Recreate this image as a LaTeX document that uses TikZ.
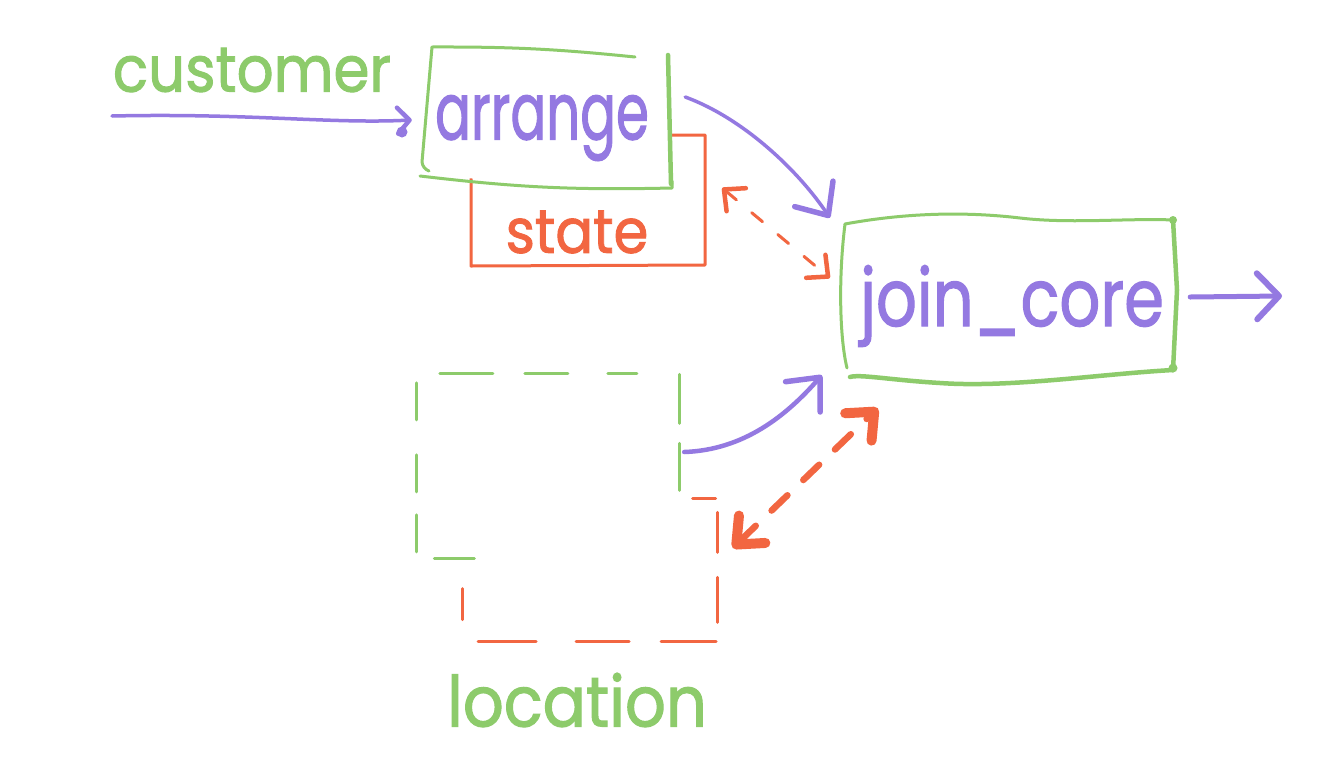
\documentclass[tikz,border=0pt]{standalone}
\usepackage{fontspec}
\setmainfont{Poppins}
\newfontfamily\hand[FakeBold=1.6]{Poppins}
\usetikzlibrary{arrows.meta,calc}
\definecolor{hgreen}{HTML}{8DCB6B}
\definecolor{hpurple}{HTML}{9479E1}
\definecolor{horange}{HTML}{F26641}
\pgfdeclarelayer{lay1}
\pgfdeclarelayer{lay2}
\pgfsetlayers{lay1,lay2,main}
\begin{document}
\begin{tikzpicture}[x=1pt,y=-1pt,
  gline/.style={hgreen,line width=3pt,line cap=round,line join=round},
  gthick/.style={hgreen,line width=4.5pt,line cap=round,line join=round},
  oline/.style={horange,line width=3pt,line cap=round,line join=round},
  pline/.style={hpurple,line width=4pt,line cap=round,line join=round},
  boxnode/.style={inner sep=0pt,minimum width=#1},
  headS/.style={-{Straight Barb[round,length=12pt,width=26pt,line width=4.5pt]}},
  headL/.style={-{Straight Barb[round,length=26pt,width=46pt,line width=5.5pt]}},
  headO/.style={-{Straight Barb[round,length=22pt,width=46pt,line width=6pt]}},
  headD/.style={{Straight Barb[round,length=16pt,width=30pt,line width=4.5pt]}-{Straight Barb[round,length=16pt,width=30pt,line width=4.5pt]}},
  headT/.style={{Straight Barb[round,length=22pt,width=38pt,line width=10pt]}-{Straight Barb[round,length=22pt,width=38pt,line width=10pt]}},
  txt/.style={inner sep=0pt,anchor=center}
]
\begin{pgfonlayer}{lay1}
\fill[white] (0,0) rectangle (1324,782);
\end{pgfonlayer}
\useasboundingbox (0,0) rectangle (1324,782);

% ---- nodes (boxes) ----
\node[boxnode=250pt,minimum height=140pt] (arrange) at (546,118) {};
\node[boxnode=234pt,minimum height=130pt] (state) at (588,200) {};
\node[boxnode=334pt,minimum height=160pt] (join) at (1010,300) {};
\node[boxnode=262pt,minimum height=184pt] (location) at (548,466) {};
\node[boxnode=255pt,minimum height=143pt] (locstate) at (590,570) {};

% ---- texts ----
\node[txt,text=hgreen,font=\hand\fontsize{58}{60}\selectfont] (customerlbl) at (252,70) {\scalebox{1}[1.1]{customer}};
\node[txt,text=hpurple,font=\hand\fontsize{53}{55}\selectfont] (arrangelbl) at (542,128) {\scalebox{1}[1.5]{arrange}};
\node[txt,text=horange,font=\hand\fontsize{56}{58}\selectfont] (statelbl) at (577,232) {\scalebox{1}[1.1]{state}};
\node[txt,text=hpurple,font=\hand\fontsize{64}{66}\selectfont] (joinlbl) at (1012,306) {\scalebox{1}[1.25]{join\_core}};
\node[txt,text=hgreen,font=\hand\fontsize{64}{66}\selectfont] (locationlbl) at (577,700) {\scalebox{1}[1.1]{location}};

% ---- back layer: state boxes ----
\begin{pgfonlayer}{lay1}
  \begin{scope}[shift={(state.center)}]
    \draw[oline] (117,-65) -- (117,65) -- (-117,66) -- (-117,-65) -- cycle;
  \end{scope}
  \draw[gline,dash pattern=on 53pt off 32pt on 43pt off 40pt on 29pt off 43pt on 49pt off 20pt on 47pt off 300pt]
    ($(location.north west)+(23,0)$) -- (location.north east) -- (location.south east);
  \draw[gline,dash pattern=on 37pt off 35pt on 37pt off 23pt on 37pt off 24pt on 40pt off 300pt]
    ($(location.north west)+(0,9)$) -- (location.south west) -- (location.south east);
  \draw[oline,dash pattern=on 23pt off 16pt on 40pt off 25pt on 45pt off 21pt on 55pt off 32pt on 53pt off 40pt on 58pt off 38pt on 31pt off 300pt]
    ($(locstate.north east)+(-25,0)$) -- (locstate.north east) -- (locstate.south east) -- (locstate.south west) -- (locstate.north west);
\end{pgfonlayer}

% ---- middle layer: process boxes ----
\begin{pgfonlayer}{lay2}
  \begin{scope}[shift={(arrange.center)}]
    \fill[white] (-114,-71) -- (122,-66) -- (125,70) -- (-126,58) -- cycle;
    \draw[gline] (-114,-71) to[bend left=3] (89,-61);
    \draw[gthick] (122,-63) -- (125,66);
    \draw[gline] (-126,58) to[bend right=4] (126,70) -- (126,63);
    \draw[gline] (-114,-71) -- (-124,44) to[bend right=30] (-117,53);
  \end{scope}
  \begin{scope}[shift={(join.center)}]
    \fill[white] (-167,-78) -- (163,-80) -- (167,70) -- (-162,78) -- cycle;
    \draw[gline] (-165,-76) .. controls (-100,-88) and (-40,-88) .. (10,-82)
                 .. controls (60,-76) and (120,-82) .. (163,-80);
    \draw[gthick] (163,-80) -- (167,-10) -- (163,70);
    \draw[gthick] (163,70) .. controls (90,74) and (0,88) .. (-70,83)
                 .. controls (-120,80) and (-150,74) .. (-160,77);
    \draw[gline] (-165,-76) .. controls (-172,-20) and (-170,40) .. (-163,68);
    \fill[hgreen] (163,-80) circle (4pt) (163,68) circle (4.5pt);
  \end{scope}
\end{pgfonlayer}

% ---- connectors ----
\coordinate (custstart) at (112,116);
\coordinate (outend) at (1282,296);
\draw[pline,line width=3.5pt,headS] (custstart) .. controls (250,113) and (330,124) .. ($(arrange.west)+(-9,2)$);
\fill[hpurple] (402,132) circle (5.5pt);
\draw[pline,line width=3.5pt,headL] ($(arrange.east)+(14,-21)$) .. controls +(60,22) and +(-30,-45) .. ($(join.north west)+(-13,-2)$);
\draw[oline,dash pattern=on 14pt off 20pt,headD] ($(state.east)+(17,-12)$) -- ($(join.west)+(-13,-22)$);
\draw[pline,line width=5pt,headO] ($(join.east)+(13,-3)$) -- (outend);
\draw[pline,line width=4.5pt,headL] ($(location.east)+(5,-14)$) .. controls +(60,-2) and +(-35,40) .. ($(join.south west)+(-21,-5)$);
\draw[horange,line width=6.5pt,line cap=round,dash pattern=on 22pt off 22pt,headT] ($(locstate.east)+(15,-22)$) -- ($(join.south west)+(35,28)$);
\end{tikzpicture}
\end{document}
